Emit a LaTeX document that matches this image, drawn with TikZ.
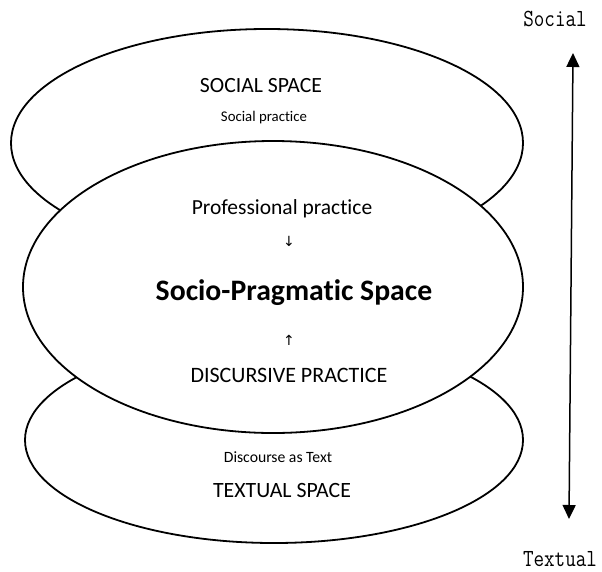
\documentclass[tikz,border=0pt]{standalone}
\usepackage{fontspec}
\setmainfont{Carlito}[RawFeature=-liga]
\newfontfamily\symfont{DejaVu Sans}
\usetikzlibrary{arrows.meta}
\begin{document}
\begin{tikzpicture}[x=1pt,y=-1pt,
  space/.style={draw=black,line width=1.8pt,fill=white},
  lbl/.style={inner sep=0pt,anchor=center},
  axislbl/.style={inner sep=0pt,anchor=center,font=\ttfamily\fontsize{20.5}{21}\selectfont}]
\useasboundingbox (0,0) rectangle (602,571);
% layered spaces: the middle one is drawn last so it covers the others
\draw[space] (274,440) ellipse [x radius=249, y radius=103];
\draw[space] (267,143) ellipse [x radius=256, y radius=114];
\draw[space] (273,287) ellipse [x radius=250, y radius=146];

% social space
\node[lbl,font=\fontsize{21.7}{22}\selectfont] (ss) at (261,86) {SOCIAL SPACE};
\node[lbl,font=\fontsize{14.8}{15}\selectfont] (sp) at (264,118) {Social practice};

% socio-pragmatic space
\node[lbl,font=\fontsize{21.5}{22}\selectfont] (pp) at (282,209) {Professional practice};
\node[lbl,font=\symfont\fontsize{14}{14}\selectfont] (da) at (289,241) {↓};
\node[lbl,font=\bfseries\fontsize{29.7}{30}\selectfont] (sps) at (294,293) {Socio-Pragmatic Space};
\node[lbl,font=\symfont\fontsize{14}{14}\selectfont] (ua) at (289,340) {↑};
\node[lbl,font=\fontsize{22}{22}\selectfont] (dp) at (289,375) {DISCURSIVE PRACTICE};

% textual space
\node[lbl,font=\fontsize{15.7}{16}\selectfont] (dt) at (278,457) {Discourse as Text};
\node[lbl,font=\fontsize{21.8}{22}\selectfont] (ts) at (282,490) {TEXTUAL SPACE};

% social-textual axis
\node[axislbl] (soc) at (555,19) {\scalebox{1}[1.2]{Social}};
\node[axislbl] (tex) at (560,559) {\scalebox{1}[1.2]{Textual}};
\coordinate (axtop) at (573,53);
\coordinate (axbot) at (569,519);
\draw[line width=1.5pt,{Triangle[width=13pt,length=14pt]}-{Triangle[width=13pt,length=14pt]}] (axtop) -- (axbot);
\end{tikzpicture}
\end{document}
